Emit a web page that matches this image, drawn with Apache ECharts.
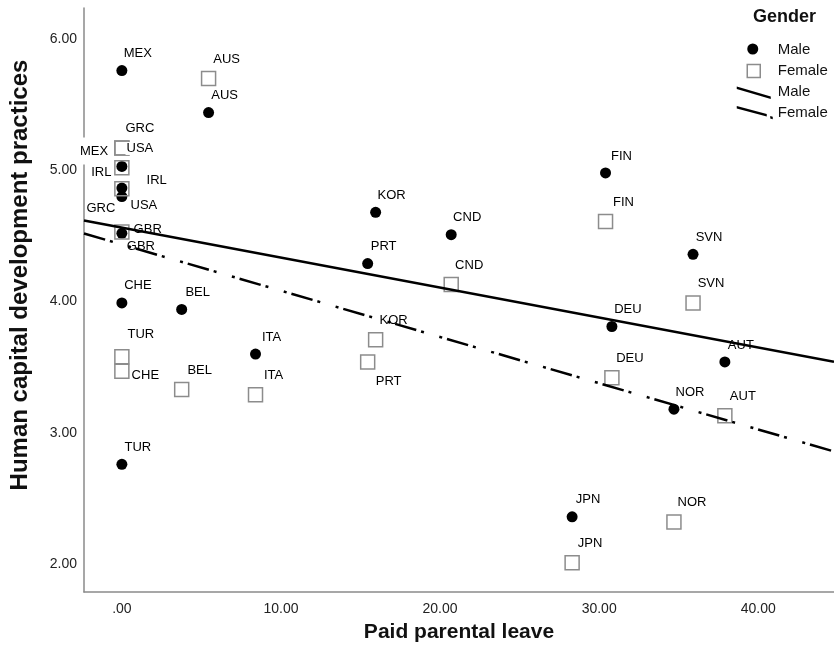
<!DOCTYPE html>
<html><head><meta charset="utf-8">
<script src="https://cdn.jsdelivr.net/npm/echarts@6/dist/echarts.min.js"></script>
<style>html,body{margin:0;padding:0;background:#fff}#chart{width:834px;height:662px}</style>
</head><body><div id="chart"></div>
<script>
// ---- data ----
const countries = ['AUS','AUT','BEL','CND','CHE','DEU','FIN','GBR','GRC','IRL','ITA','JPN','KOR','MEX','NOR','PRT','SVN','TUR','USA'];
const paidLeave = [5.45, 37.9, 3.76, 20.7, 0, 30.8, 30.4, 0, 0, 0, 8.4, 28.3, 15.95, 0, 34.7, 15.45, 35.9, 0, 0];
const maleHCD   = [5.44, 3.54, 3.94, 4.51, 3.99, 3.81, 4.98, 4.52, 4.80, 5.03, 3.60, 2.36, 4.68, 5.76, 3.18, 4.29, 4.36, 2.76, 4.865];
const femaleHCD = [5.70, 3.13, 3.33, 4.13, 3.47, 3.42, 4.61, 4.53, 5.17, 4.86, 3.29, 2.01, 3.71, 5.17, 2.32, 3.54, 3.99, 3.58, 5.02];
const xTicks = [0, 10, 20, 30, 40];
const yTicks = [2, 3, 4, 5, 6];
const maleFitIntercept = 4.564, maleFitSlope = -0.02285;
const femaleFitIntercept = 4.435, femaleFitSlope = -0.03524;

// ---- layout / style ----
const X_MIN = -2.38, X_MAX = 44.76, Y_MIN = 1.787, Y_MAX = 6.237;
const FONT = '"Liberation Sans", Arial, sans-serif';
const labelPlacement = {
  'F:MEX': {position: 'left', offset: [2, 3], padding: [13, 3, 1, 3]},
  'M:IRL': {position: 'left', offset: [1, 6]},
  'F:IRL': {position: 'right', offset: [11, -8]},
  'M:USA': {position: 'bottom', offset: [22, 0]},
  'M:GRC': {position: 'left', offset: [5, 12]},
  'M:GBR': {position: 'bottom', offset: [19, -4]},
  'F:GBR': {position: 'right', offset: [-2, -3]},
  'F:CHE': {position: 'right', offset: [-4, 4]},
  'F:PRT': {position: 'bottom', offset: [21, 0]},
  'F:TUR': {position: 'top', offset: [19, -3]}
};

function pointData(values, tag, dx) {
  return countries.map((c, i) => {
    const p = labelPlacement[tag + ':' + c] || {};
    const label = {position: p.position || 'top', offset: p.offset || [dx, 0]};
    if (p.padding) label.padding = p.padding;
    return {name: c, value: [paidLeave[i], values[i]], label: label};
  });
}
function fitData(a, b) {
  return [[X_MIN, a + b * X_MIN], [X_MAX, a + b * X_MAX]];
}
const baseLabel = {
  show: true, formatter: '{b}', fontSize: 13, fontFamily: FONT, color: '#000',
  backgroundColor: '#fff', padding: [0, 1]
};
const fmt = v => (v === 0 ? '.00' : v.toFixed(2));

const chart = echarts.init(document.getElementById('chart'), null, {renderer: 'canvas'});
chart.setOption({
  backgroundColor: '#fff',
  animation: false,
  title: {
    text: 'Gender', left: 753, top: 8, padding: 0,
    textStyle: {fontSize: 18, fontWeight: 'bold', fontFamily: FONT, color: '#111'}
  },
  legend: {
    orient: 'vertical', left: 736, top: 42, padding: 0, itemGap: 5,
    itemWidth: 36, itemHeight: 14, selectedMode: false,
    textStyle: {fontSize: 15, fontFamily: FONT, color: '#111', lineHeight: 16},
    formatter: n => n.replace(' fit', ''),
    data: [
      {name: 'Male', icon: 'path://M0 0M36 14M21.5 6A5.5 5.5 0 1 1 10.5 6A5.5 5.5 0 1 1 21.5 6Z',
       itemStyle: {color: '#000', borderWidth: 0, opacity: 1}},
      {name: 'Female', icon: 'path://M0 0M36 14M10.5 0.5L23.5 0.5L23.5 13.5L10.5 13.5Z',
       itemStyle: {color: 'rgba(0,0,0,0)', borderColor: '#8c8c8c', borderWidth: 1.5, opacity: 1}},
      {name: 'Male fit', icon: 'path://M0 0M36 14M0 1.5L34 11.5L34 14L0 4Z',
       itemStyle: {color: '#000', borderWidth: 0, opacity: 1}},
      {name: 'Female fit', icon: 'path://M0 0M36 14M0 0L30 8L30 10.5L0 2.5ZM33.5 10L36 10.7L36 13.2L33.5 12.5Z',
       itemStyle: {color: '#000', borderWidth: 0, opacity: 1}}
    ]
  },
  grid: {left: 82, right: 0, top: 8, bottom: 70},
  xAxis: {
    type: 'value', min: X_MIN, max: X_MAX,
    name: 'Paid parental leave', nameLocation: 'middle', nameGap: 30,
    nameTextStyle: {fontSize: 21, fontWeight: 'bold', fontFamily: FONT, color: '#111'},
    axisLine: {show: true, onZero: false, lineStyle: {color: '#8a8a8a', width: 1.5}},
    axisTick: {show: false}, splitLine: {show: false},
    axisLabel: {customValues: xTicks, formatter: fmt, fontSize: 14, fontFamily: FONT, color: '#222', margin: 10}
  },
  yAxis: {
    type: 'value', min: Y_MIN, max: Y_MAX,
    name: 'Human capital development practices', nameLocation: 'middle', nameGap: 52,
    nameTextStyle: {fontSize: 24, fontWeight: 'bold', fontFamily: FONT, color: '#111', padding: [0, 0, 0, 50]},
    axisLine: {show: true, onZero: false, lineStyle: {color: '#8a8a8a', width: 1.5}},
    axisTick: {show: false}, splitLine: {show: false},
    axisLabel: {customValues: yTicks, formatter: v => v.toFixed(2), fontSize: 14, fontFamily: FONT, color: '#222', margin: 7}
  },
  series: [
    {
      name: 'Male', type: 'scatter', z: 2, symbol: 'circle', symbolSize: 11,
      itemStyle: {color: '#000', opacity: 1}, label: baseLabel,
      data: pointData(maleHCD, 'M', 16)
    },
    {
      name: 'Female', type: 'scatter', z: 3, symbol: 'rect', symbolSize: 14,
      itemStyle: {color: 'rgba(0,0,0,0)', borderColor: '#8c8c8c', borderWidth: 1.5, opacity: 1},
      label: baseLabel,
      data: pointData(femaleHCD, 'F', 18)
    },
    {
      name: 'Male fit', type: 'line', z: 10, showSymbol: false, symbol: 'none',
      lineStyle: {color: '#000', width: 2.5}, itemStyle: {color: '#000'},
      data: fitData(maleFitIntercept, maleFitSlope)
    },
    {
      name: 'Female fit', type: 'line', z: 10, showSymbol: false, symbol: 'none',
      lineStyle: {color: '#000', width: 2.5, type: [22, 5, 3, 16, 3, 5]}, itemStyle: {color: '#000'},
      data: fitData(femaleFitIntercept, femaleFitSlope)
    }
  ]
});
</script></body></html>
